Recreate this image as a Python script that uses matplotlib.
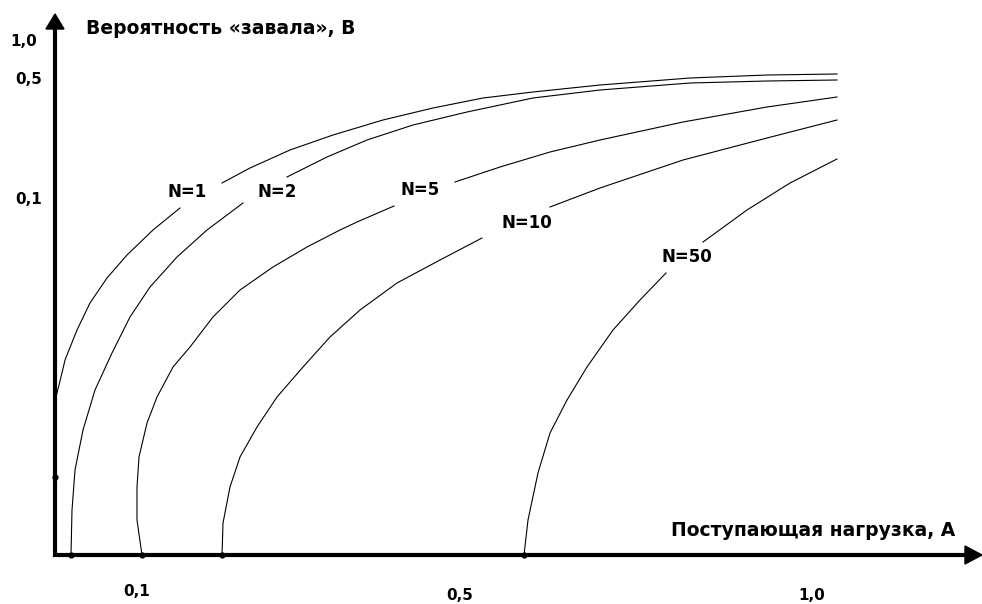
import matplotlib
matplotlib.use("Agg")
import matplotlib.pyplot as plt
import numpy as np

plt.rcParams['font.family'] = ['DejaVu Sans']

# schematic coordinates: origin at the axes crossing, units ~ pixels
# each curve is split in two parts by its label
n1_low_x = [1, 7, 10, 14, 22, 35, 52, 72, 98, 125]
n1_low_y = [158, 182, 195, 205, 225, 252, 277, 300, 325, 347]
n1_up_x = [167, 195, 235, 278, 328, 378, 428, 478, 545, 635, 712, 782]
n1_up_y = [372, 387, 405, 420, 435, 447, 457, 463, 470, 477, 480, 481]

n2_low_x = [16, 17, 20, 28, 40, 57, 75, 95, 122, 152, 188]
n2_low_y = [0, 45, 85, 125, 165, 202, 238, 268, 298, 325, 352]
n2_up_x = [232, 272, 312, 358, 412, 478, 545, 635, 712, 782]
n2_up_y = [378, 398, 415, 430, 443, 457, 465, 472, 474, 475]

n5_low_x = [87, 82, 82, 84, 92, 102, 118, 135, 158, 185, 218, 252, 285, 302, 339]
n5_low_y = [0, 35, 68, 98, 132, 158, 188, 208, 238, 265, 288, 308, 325, 333, 349]
n5_up_x = [400, 445, 495, 545, 628, 712, 782]
n5_up_y = [373, 388, 403, 415, 433, 448, 458]

n10_low_x = [167, 168, 175, 185, 202, 222, 248, 275, 305, 342, 385, 427]
n10_low_y = [0, 32, 68, 98, 128, 158, 188, 218, 245, 272, 295, 317]
n10_up_x = [495, 545, 628, 712, 782]
n10_up_y = [348, 367, 395, 417, 435]

n50_low_x = [469, 473, 483, 495, 512, 532, 558, 585, 611]
n50_low_y = [0, 35, 82, 122, 155, 188, 225, 255, 282]
n50_up_x = [648, 692, 735, 782]
n50_up_y = [313, 345, 372, 396]

curve_labels = ['N=1', 'N=2', 'N=5', 'N=10', 'N=50']
label_x = [132, 222, 365, 472, 632]
label_y = [363, 363, 365, 332, 298]

dots_x = [16, 87, 167, 469]   # curve starts on the A axis
dot_y_axis = 78               # mark on the B axis

x_tick_labels = ['0,1', '0,5', '1,0']
x_tick_pos = [82, 405, 757]
x_tick_y = [-37, -41, -41]
y_tick_labels = ['1,0', '0,5', '0,1']
y_tick_pos = [513, 475, 356]
y_tick_right = [-18, -13, -13]

fig = plt.figure(figsize=(9.82, 6.04), dpi=100)
ax = fig.add_axes([0, 0, 1, 1])
ax.set_xlim(-55, 927)
ax.set_ylim(-49, 555)
ax.axis('off')

# axes with arrows
ax.plot([0, 0], [-2, 528], color='black', lw=3, solid_capstyle='butt')
ax.plot([-2, 912], [0, 0], color='black', lw=3, solid_capstyle='butt')
ax.fill([-9, 9, 0], [526, 526, 541], color='black')
ax.fill([910, 910, 927], [-9, 9, 0], color='black')

segs = [(n1_low_x, n1_low_y), (n1_up_x, n1_up_y),
        (n2_low_x, n2_low_y), (n2_up_x, n2_up_y),
        (n5_low_x, n5_low_y), (n5_up_x, n5_up_y),
        (n10_low_x, n10_low_y), (n10_up_x, n10_up_y),
        (n50_low_x, n50_low_y), (n50_up_x, n50_up_y)]
for sx, sy in segs:
    ax.plot(sx, sy, color='black', lw=0.8)

ax.scatter(dots_x, [0] * len(dots_x), s=12, color='black', zorder=3)
ax.scatter([0], [dot_y_axis], s=12, color='black', zorder=3)

for lab, lx, ly in zip(curve_labels, label_x, label_y):
    ax.text(lx, ly, lab, fontsize=12, fontweight='bold', ha='center', va='center')

for lab, px, py in zip(x_tick_labels, x_tick_pos, x_tick_y):
    ax.text(px, py, lab, fontsize=11, fontweight='bold', ha='center', va='center')
for lab, py, rx in zip(y_tick_labels, y_tick_pos, y_tick_right):
    ax.text(rx, py, lab, fontsize=11, fontweight='bold', ha='right', va='center')

ax.text(31, 527, 'Вероятность «завала», В', fontsize=13.5, fontweight='bold',
        ha='left', va='center')
ax.text(900, 25, 'Поступающая нагрузка, А', fontsize=13.5, fontweight='bold',
        ha='right', va='center')

fig.savefig('out.png', dpi=100)
